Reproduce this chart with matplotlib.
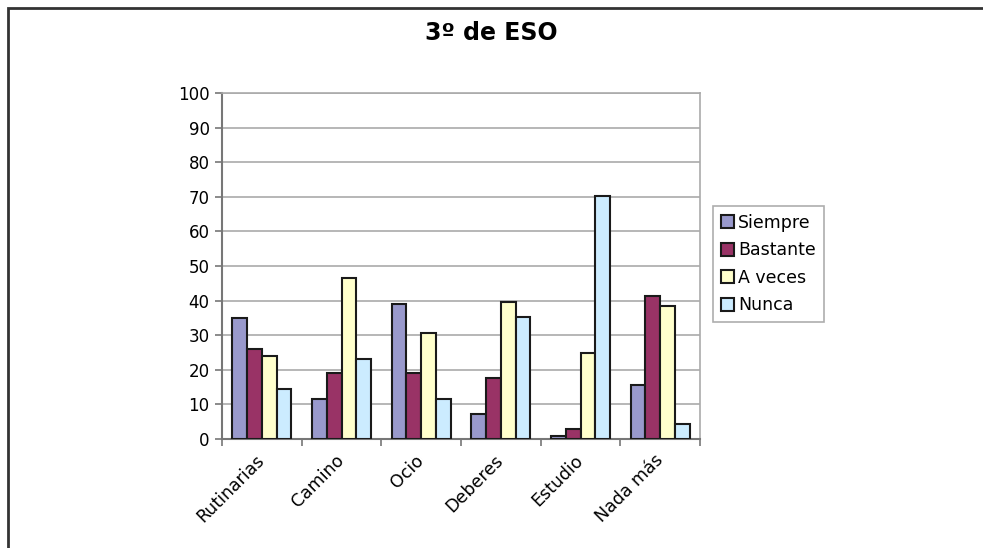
import numpy as np
import matplotlib.pyplot as plt
from matplotlib.patches import Rectangle

# datos
categorias = ['Rutinarias', 'Camino', 'Ocio', 'Deberes', 'Estudio', 'Nada más']
siempre = [35, 11.5, 39, 7.3, 1, 15.5]
bastante = [26, 19, 19, 17.5, 3, 41.2]
a_veces = [24, 46.5, 30.5, 39.6, 25, 38.5]
nunca = [14.5, 23, 11.5, 35.3, 70.2, 4.2]

series = [('Siempre', siempre, '#9999cc'),
          ('Bastante', bastante, '#993366'),
          ('A veces', a_veces, '#ffffcc'),
          ('Nunca', nunca, '#ccecff')]

fig = plt.figure(figsize=(9.83, 5.48), dpi=100)
W, H = 983, 548

# marco exterior
fig.patches.append(Rectangle((8 / W, -0.1), 1.2, 1 - 8 / H + 0.1, transform=fig.transFigure,
                             fill=False, edgecolor='#333333', linewidth=2))

ax = fig.add_axes([222 / W, (H - 439) / H, (700 - 222) / W, (439 - 93) / H])

x = np.arange(len(categorias))
ancho = 0.185
for i, (nombre, valores, color) in enumerate(series):
    ax.bar(x + (i - 1.5) * ancho, valores, ancho, color=color, edgecolor='#1a1a1a',
           linewidth=1.5, label=nombre, zorder=3)

ax.set_xlim(-0.5, len(categorias) - 0.5)
ax.set_ylim(0, 100)
ax.set_yticks(np.arange(0, 101, 10))
ax.yaxis.grid(True, color='#aaaaaa', linewidth=1.2, zorder=0)

ax.set_xticks(np.arange(-0.5, len(categorias)), minor=False)
ax.set_xticklabels([''] * (len(categorias) + 1))
ax.set_xticks(x - 0.08, minor=True)
ax.set_xticklabels(categorias, minor=True, rotation=45, ha='right', rotation_mode='anchor',
                   fontsize=12.5)
ax.tick_params(axis='x', which='minor', length=0, pad=9)
ax.tick_params(axis='x', which='major', length=5, color='#777777', width=1.2)
ax.tick_params(axis='y', length=5, color='#777777', width=1.2, labelsize=12, pad=4)

for lado in ['top', 'right']:
    ax.spines[lado].set_color('#aaaaaa')
    ax.spines[lado].set_linewidth(1.2)
for lado in ['left', 'bottom']:
    ax.spines[lado].set_color('#777777')
    ax.spines[lado].set_linewidth(1.5)

fig.text(0.5, (H - 33) / H, '3º de ESO', ha='center', va='center', fontsize=17,
         fontweight='bold')

leg = ax.legend(loc='upper left', bbox_to_anchor=(713 / W, (H - 206) / H),
                bbox_transform=fig.transFigure, fontsize=12.5, frameon=True, fancybox=False,
                handlelength=0.75, handleheight=0.75, handletextpad=0.25, labelspacing=0.55,
                borderpad=0.45, borderaxespad=0)
leg.get_frame().set_edgecolor('#999999')
leg.get_frame().set_linewidth(1.2)

fig.savefig('out.png', dpi=100)
